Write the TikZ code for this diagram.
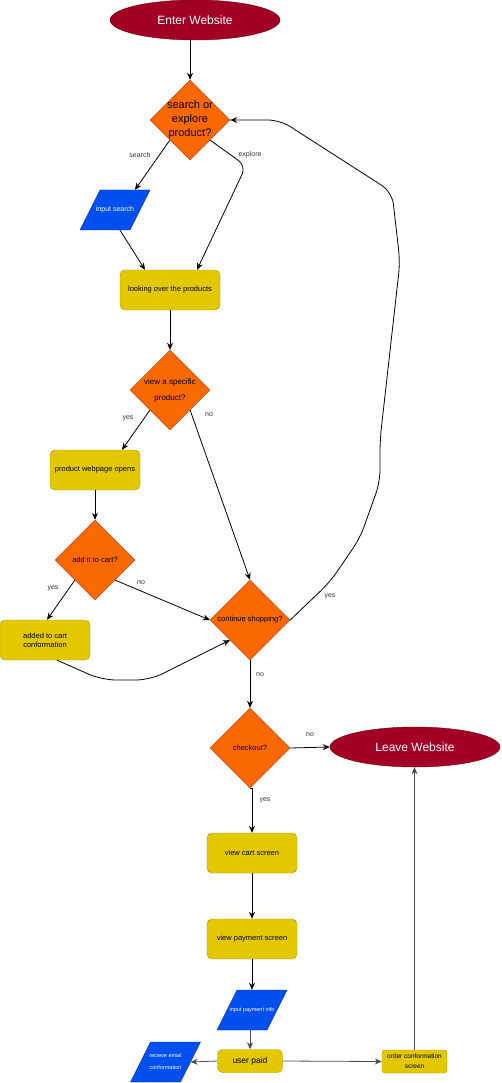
\documentclass[tikz,border=0pt]{standalone}
\usepackage{fontspec}
\setmainfont{Liberation Sans}
\usetikzlibrary{shapes.geometric,arrows.meta,calc}

\definecolor{termred}{HTML}{A20025}
\definecolor{termline}{HTML}{6F0000}
\definecolor{decfill}{HTML}{FA6800}
\definecolor{decline}{HTML}{C73500}
\definecolor{procfill}{HTML}{E3C800}
\definecolor{procline}{HTML}{B09500}
\definecolor{iofill}{HTML}{0050EF}
\definecolor{ioline}{HTML}{001DBC}

\pgfdeclarelayer{background}
\pgfsetlayers{background,main}

\tikzset{
  every node/.style={font=\fontsize{7.5}{9}\selectfont},
  term/.style={ellipse, fill=termred, draw=termline, minimum width=170pt,
    minimum height=40pt, text=white, font=\fontsize{12}{14}\selectfont},
  decision/.style={diamond, fill=decfill, draw=decline, minimum width=80pt,
    minimum height=80pt, inner sep=0pt},
  dtext/.style={align=center, inner sep=0pt},
  process/.style={rectangle, rounded corners=5pt, fill=procfill, draw=procline,
    minimum width=90pt, minimum height=40pt, align=center, inner sep=2pt},
  % slanted input/output box, 70 wide and 40 high, top edge shifted right by 20
  io/.style={rectangle, minimum width=50pt, minimum height=40pt, inner sep=1pt,
    text=white, align=center,
    append after command={\pgfextra{\begin{pgfonlayer}{background}
      \draw[fill=iofill, draw=ioline]
        ($(\tikzlastnode.center)+(-15,-20)$) -- ($(\tikzlastnode.center)+(35,-20)$)
        -- ($(\tikzlastnode.center)+(15,20)$) -- ($(\tikzlastnode.center)+(-35,20)$)
        -- cycle;
      \end{pgfonlayer}}}},
  flow/.style={draw=black, line width=0.8pt, -{Stealth[length=7pt,width=6pt]}},
  flowg/.style={flow, draw=black!70},
  elabel/.style={text=black!80, font=\fontsize{7}{8}\selectfont, inner sep=1pt},
}

\begin{document}
\begin{tikzpicture}[x=1pt, y=-1pt]
\useasboundingbox (0,0) rectangle (502,1083);

% terminals
\node[term] (enter) at (195,20) {Enter Website};
\node[term] (leave) at (415,747) {Leave Website};

% decisions
\node[decision] (srch) at (190,120) {};
\node[dtext, font=\fontsize{11}{14}\selectfont] (srchT) at (srch) {search or\\explore\\product?};
\node[decision] (view) at (170,390) {};
\node[dtext, font=\fontsize{8}{16}\selectfont] (viewT) at (view) {view a specific\\product?};
\node[decision] (cart) at (95,560) {};
\node[dtext] (cartT) at (cart) {add it to cart?};
\node[decision] (cont) at (250,620) {};
\node[dtext] (contT) at (cont) {continue shopping?};
\node[decision] (chk) at (250,748) {};
\node[dtext] (chkT) at (chk) {checkout?};

% processes
\node[process, minimum width=100pt] (look) at (170,290) {looking over the products};
\node[process] (page) at (95,470) {product webpage opens};
\node[process] (added) at (45,640) {added to cart\\conformation};
\node[process] (vcart) at (252,853) {view cart screen};
\node[process] (vpay) at (252,939) {view payment screen};
\node[process, minimum width=65pt, minimum height=23pt, font=\fontsize{8.5}{10}\selectfont] (paid) at (250,1061) {user paid};
\node[process, minimum width=65pt, minimum height=23pt, rounded corners=3pt,
  font=\fontsize{6.5}{10}\selectfont] (order) at (414.5,1061.5) {order conformation\\screen};

% input / output
\node[io, font=\fontsize{7}{8}\selectfont] (insrch) at (115,210) {input search};
\node[io, font=\fontsize{5.5}{7}\selectfont] (inpay) at (252,1010) {input payment info};
\node[io, font=\fontsize{5.5}{12}\selectfont] (mail) at (165.5,1062) {recieve email\\conformation};

% connectors
\draw[flow] (enter.south -| srch.north) -- (srch.north);
\draw[flow] ($(srch.west)!0.5!(srch.south)$) -- ($(insrch.north)+(20,0)$);
\draw[flow, rounded corners=9pt] ($(srch.east)!0.5!(srch.south)$) -- (246,166) -- ($(look.north)+(27,0)$);
\draw[flow] ($(insrch.south)+(5,0)$) -- ($(look.north)+(-25,0)$);
\draw[flow] (look) -- (view);
\draw[flow] ($(view.west)!0.5!(view.south)$) -- ($(page.north)+(27,0)$);
\draw[flow] ($(view.east)!0.5!(view.south)$) -- (cont.north);
\draw[flow] (page) -- (cart);
\draw[flow] ($(cart.west)!0.5!(cart.south)$) -- ($(added.north)+(2,0)$);
\draw[flow] ($(cart.east)!0.5!(cart.south)$) -- (cont.west);
\draw[flow, rounded corners=14pt] ($(added.south)+(12,0)$) -- (102,680) -- (150,680)
  -- ($(cont.west)!0.5!(cont.south)$);
\draw[flow, rounded corners=12pt] (cont.east) -- (330,582) -- (360,538) -- (380,482)
  -- (380,440) -- (400,262) -- (392,192) -- (280,120) -- (srch.east);
\draw[flow] (cont) -- (chk);
\draw[flow] (chk.east) -- (leave.west);
\draw[flow] (chk.south) -- (chk.south -| vcart.north) -- (vcart.north);
\draw[flow] (vcart) -- (vpay);
\draw[flow] (vpay) -- (inpay.north -| vpay.south);
\draw[flowg] (inpay.south -| paid.north) -- (paid.north);
\draw[flowg] (paid.west) -- (mail.east);
\draw[flowg] (paid.east) -- (order.west);
\draw[flowg] (order.north) -- (order.north |- leave.south);

% branch labels
\node[elabel] (lsearch) at (140,155) {search};
\node[elabel] (lexplore) at (250,155) {explore};
\node[elabel] (lvyes) at (128,418) {yes};
\node[elabel] (lvno) at (209,415) {no};
\node[elabel] (lcyes) at (53,588) {yes};
\node[elabel] (lcno) at (141,583) {no};
\node[elabel] (lsyes) at (330,596) {yes};
\node[elabel] (lsno) at (260,675) {no};
\node[elabel] (lkno) at (310,735) {no};
\node[elabel] (lkyes) at (265,800) {yes};
\end{tikzpicture}
\end{document}
